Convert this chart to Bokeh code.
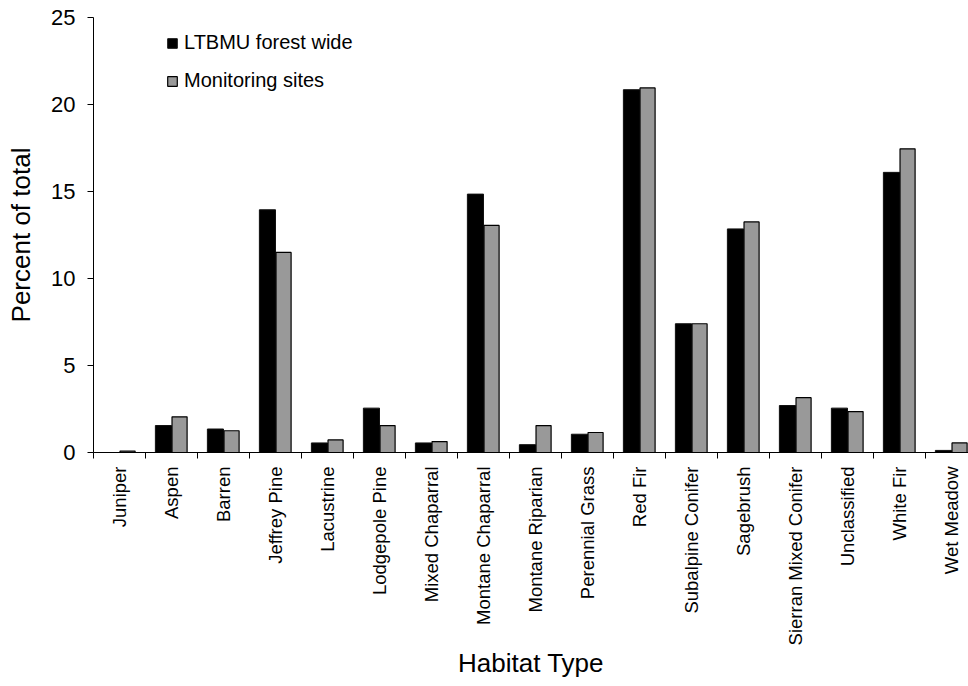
import math
from bokeh.plotting import figure
from bokeh.models import FixedTicker, Legend, LegendItem, ColumnDataSource, Range1d
from bokeh.embed import file_html
from bokeh.resources import INLINE

habitats = ["Juniper", "Aspen", "Barren", "Jeffrey Pine", "Lacustrine", "Lodgepole Pine",
            "Mixed Chaparral", "Montane Chaparral", "Montane Riparian", "Perennial Grass",
            "Red Fir", "Subalpine Conifer", "Sagebrush", "Sierran Mixed Conifer",
            "Unclassified", "White Fir", "Wet Meadow"]
forest_wide = [0.0, 1.55, 1.35, 13.95, 0.55, 2.55, 0.55, 14.85, 0.45, 1.05,
               20.85, 7.4, 12.85, 2.7, 2.55, 16.1, 0.12]
monitoring = [0.08, 2.05, 1.25, 11.5, 0.72, 1.55, 0.63, 13.05, 1.55, 1.15,
              20.95, 7.4, 13.25, 3.15, 2.35, 17.45, 0.55]
y_ticks = [0, 5, 10, 15, 20, 25]

FONT = "Liberation Sans"

n = len(habitats)
src = ColumnDataSource(dict(
    xa=[i + 0.345 for i in range(n)],
    xb=[i + 0.655 for i in range(n)],
    fw=forest_wide,
    mon=monitoring,
))

p = figure(width=968, height=686, x_range=Range1d(0, 875 / 52.0), y_range=Range1d(0, 25),
           output_backend="svg", toolbar_location=None,
           min_border_left=93, min_border_right=0, min_border_top=17, min_border_bottom=234)
p.outline_line_color = None
p.xgrid.visible = False
p.ygrid.visible = False
p.background_fill_color = "white"
p.border_fill_color = "white"

r1 = p.vbar(x="xa", top="fw", bottom=0, width=0.31, source=src,
            fill_color="black", line_color="#111111", line_width=1)
r2 = p.vbar(x="xb", top="mon", bottom=0, width=0.29, source=src,
            fill_color="#999999", line_color="black", line_width=1.2)

# x axis
centers = [i + 0.5 for i in range(n)]
xa = p.xaxis[0]
xa.ticker = FixedTicker(ticks=centers, minor_ticks=list(range(n + 1)))
xa.major_label_overrides = {float(c): h for c, h in zip(centers, habitats)}
xa.major_label_orientation = math.pi / 2
xa.major_tick_out = 0
xa.major_tick_in = 0
xa.minor_tick_out = 6
xa.minor_tick_in = 0
xa.minor_tick_line_color = "black"
xa.axis_line_color = "black"
xa.major_label_text_font = FONT
xa.major_label_text_font_size = "18.5px"
xa.major_label_text_color = "black"
xa.major_label_standoff = 8
xa.axis_label = "Habitat Type"
xa.axis_label_text_font = FONT
xa.axis_label_text_font_size = "26px"
xa.axis_label_text_font_style = "normal"
xa.axis_label_text_color = "black"
xa.axis_label_standoff = 0

ya = p.yaxis[0]
ya.ticker = FixedTicker(ticks=y_ticks)
ya.major_tick_out = 6
ya.major_tick_in = 0
ya.minor_tick_out = 0
ya.minor_tick_in = 0
ya.axis_line_color = "black"
ya.major_tick_line_color = "black"
ya.major_label_text_font = FONT
ya.major_label_text_font_size = "22px"
ya.major_label_text_color = "black"
ya.major_label_standoff = 12
ya.axis_label = "Percent of total"
ya.axis_label_text_font = FONT
ya.axis_label_text_font_size = "26px"
ya.axis_label_text_font_style = "normal"
ya.axis_label_text_color = "black"
ya.axis_label_standoff = 12

legend = Legend(items=[LegendItem(label="LTBMU forest wide", renderers=[r1]),
                       LegendItem(label="Monitoring sites", renderers=[r2])],
                location=(73, 360), orientation="vertical")
legend.border_line_color = None
legend.background_fill_alpha = 0
legend.padding = 0
legend.margin = 0
legend.glyph_width = 12
legend.glyph_height = 12
legend.label_standoff = 6
legend.spacing = 15
legend.label_text_font = FONT
legend.label_text_font_size = "20px"
legend.label_text_color = "black"
p.add_layout(legend, "center")

open("out.html", "w").write(file_html(p, INLINE))
